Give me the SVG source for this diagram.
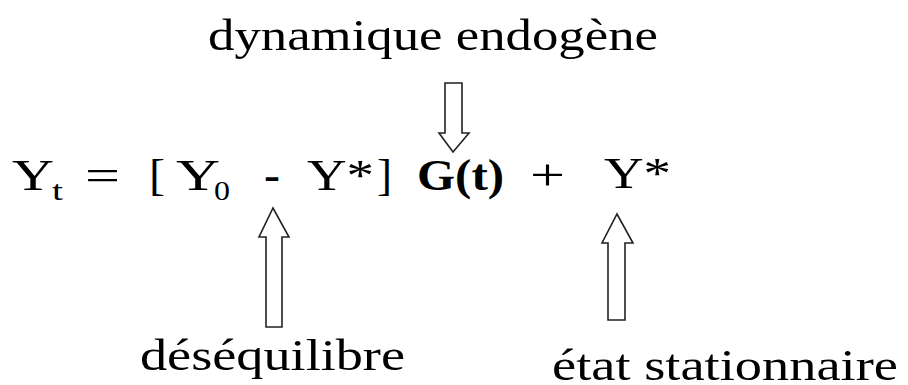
<svg xmlns="http://www.w3.org/2000/svg" width="908" height="385" viewBox="0 0 908 385">
<style>
.lbl{font-size:44px}
.eq{font-size:45px}
.sub{font-size:27px}
.b{font-weight:bold}
.arr{fill:#fff;stroke:#222;stroke-width:1.6;stroke-linejoin:miter}
</style>
<rect width="908" height="385" fill="#fff"/>
<g font-family="Liberation Serif, Times New Roman, serif" fill="#000">
<g id="label-dynamique">
<text class="lbl" x="208" y="50" textLength="450" lengthAdjust="spacingAndGlyphs">dynamique endogène</text>
</g>
<g id="equation">
<text class="eq" x="12" y="190" textLength="42" lengthAdjust="spacingAndGlyphs">Y</text>
<text class="sub" x="52" y="200" textLength="11" lengthAdjust="spacingAndGlyphs">t</text>
<text class="eq" x="85" y="190" textLength="35" lengthAdjust="spacingAndGlyphs">=</text>
<text class="eq" x="149" y="190" textLength="16" lengthAdjust="spacingAndGlyphs">[</text>
<text class="eq" x="176" y="190" textLength="44" lengthAdjust="spacingAndGlyphs">Y</text>
<text class="sub" x="214" y="200" textLength="16" lengthAdjust="spacingAndGlyphs">0</text>
<text class="eq b" x="264" y="190" textLength="16" lengthAdjust="spacingAndGlyphs">-</text>
<text class="eq" x="307" y="190" textLength="67" lengthAdjust="spacingAndGlyphs">Y*</text>
<text class="eq" x="377" y="190" textLength="15" lengthAdjust="spacingAndGlyphs">]</text>
<text class="eq b" x="417" y="190" textLength="87" lengthAdjust="spacingAndGlyphs">G(t)</text>
<text class="eq" x="530" y="190" textLength="35" lengthAdjust="spacingAndGlyphs">+</text>
<text class="eq" x="604" y="188" textLength="67" lengthAdjust="spacingAndGlyphs">Y*</text>
</g>
<g id="label-desequilibre">
<text class="lbl" x="140" y="370" textLength="265" lengthAdjust="spacingAndGlyphs">déséquilibre</text>
</g>
<g id="label-etat">
<text class="lbl" x="552" y="380" textLength="346" lengthAdjust="spacingAndGlyphs">état stationnaire</text>
</g>
</g>
<g id="connectors">
<polygon class="arr" points="445,83 462,83 462,133 469,133 453,152 439,133 445,133"/>
<polygon class="arr" points="266,327 282,327 282,237 289,237 273,208 259,237 266,237"/>
<polygon class="arr" points="608,320 625,320 625,243 633,243 617,214 602,243 608,243"/>
</g>
</svg>
